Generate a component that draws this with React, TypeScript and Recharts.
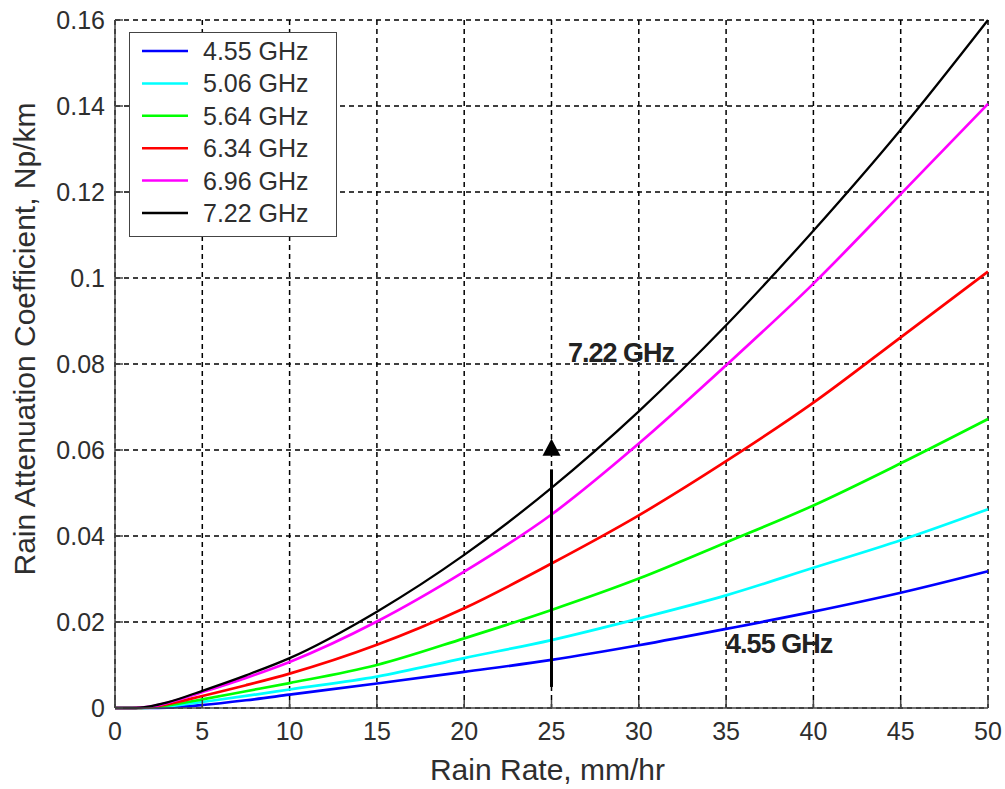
import React from 'react';
import {
  LineChart, Line, XAxis, YAxis, CartesianGrid, Legend, ReferenceLine, ReferenceDot,
} from 'recharts';

// Rain rate (mm/hr)
const rainRate = [0, 1, 2, 3, 5, 7.5, 10, 15, 20, 25, 30, 35, 40, 45, 50];

// Rain attenuation coefficient (Np/km) per frequency
const att455 = [0, 0, 0, 0.0001, 0.0007, 0.0018, 0.0031, 0.0057, 0.0084, 0.0112, 0.0146, 0.0184, 0.0224, 0.0268, 0.0318];
const att506 = [0, 0, 0.0001, 0.0004, 0.0014, 0.0028, 0.0043, 0.0073, 0.0116, 0.0158, 0.0208, 0.0262, 0.0326, 0.039, 0.0462];
const att564 = [0, 0, 0.0001, 0.0006, 0.002, 0.0039, 0.0058, 0.01, 0.0162, 0.0228, 0.0301, 0.0385, 0.0471, 0.0569, 0.0672];
const att634 = [0, 0, 0.0002, 0.0009, 0.0028, 0.0053, 0.008, 0.0147, 0.0232, 0.0336, 0.0448, 0.0574, 0.071, 0.0862, 0.1015];
const att696 = [0, 0, 0.0003, 0.0012, 0.0037, 0.007, 0.0107, 0.0201, 0.0317, 0.045, 0.0615, 0.0797, 0.0987, 0.1195, 0.1405];
const att722 = [0, 0, 0.0004, 0.0013, 0.004, 0.0076, 0.0116, 0.0224, 0.0356, 0.0512, 0.069, 0.089, 0.111, 0.1345, 0.16];

const seriesNames = ['4.55 GHz', '5.06 GHz', '5.64 GHz', '6.34 GHz', '6.96 GHz', '7.22 GHz'];
const seriesKeys = ['f455', 'f506', 'f564', 'f634', 'f696', 'f722'];
const seriesColors = ['#0000ff', '#00ffff', '#00ff00', '#ff0000', '#ff00ff', '#000000'];
const seriesValues = [att455, att506, att564, att634, att696, att722];

const xTicks = [0, 5, 10, 15, 20, 25, 30, 35, 40, 45, 50];
const yTicks = [0, 0.02, 0.04, 0.06, 0.08, 0.1, 0.12, 0.14, 0.16];

// Annotations
const arrowX = 25;
const arrowFrom = 0.0049;
const arrowShaftTo = 0.0555;
const arrowTip = 0.0626;
const label722 = { x: 25.94, y: 0.0805, text: '7.22 GHz' };
const label455 = { x: 35, y: 0.0128, text: '4.55 GHz' };

const data = rainRate.map((r, i) => {
  const row: Record<string, number> = { r };
  seriesKeys.forEach((k, j) => { row[k] = seriesValues[j][i]; });
  return row;
});

const FONT = '"Liberation Sans", Arial, Helvetica, sans-serif';
const TEXT = '#2e2e2e';
const FRAME = '#444';

const fmtY = (v: number) => String(Number(v.toFixed(2)));

const LegendBox = () => (
  <div style={{ width: 208, height: 205, boxSizing: 'border-box', border: `1.5px solid ${FRAME}`, background: '#fff' }}>
    <svg width={205} height={202} style={{ display: 'block' }}>
      {seriesNames.map((n, i) => {
        const cy = 18 + i * 32.4;
        return (
          <g key={n}>
            <line x1={12} x2={58} y1={cy} y2={cy} stroke={seriesColors[i]} strokeWidth={2.5} />
            <text x={73} y={cy + 9} fontSize={25} fill={TEXT} fontFamily={FONT}>{n}</text>
          </g>
        );
      })}
    </svg>
  </div>
);

const YLabel = (props: any) => {
  const vb = props.viewBox || { x: 55, y: 20, width: 60, height: 688 };
  const cx = vb.x - 31;
  const cy = vb.y + vb.height / 2 - 25;
  return (
    <text x={cx} y={cy} transform={`rotate(-90, ${cx}, ${cy})`} textAnchor="middle" dominantBaseline="central"
      fontSize={30} fill={TEXT} fontFamily={FONT}>
      Rain Attenuation Coefficient, Np/km
    </text>
  );
};

const XLabel = (props: any) => {
  const vb = props.viewBox || { x: 115, y: 708, width: 873, height: 40 };
  return (
    <text x={vb.x + vb.width / 2 - 4} y={vb.y + 72} textAnchor="middle" fontSize={30} fill={TEXT} fontFamily={FONT}>
      Rain Rate, mm/hr
    </text>
  );
};

const ArrowHead = (p: any) => {
  const { cx, cy } = p;
  if (cx == null || cy == null) return null;
  return <polygon points={`${cx},${cy} ${cx - 9},${cy + 17} ${cx + 9},${cy + 17}`} fill="#000" />;
};

const makeText = (text: string) => (p: any) => {
  const { cx, cy } = p;
  if (cx == null || cy == null) return null;
  return (
    <text x={cx} y={cy} fontSize={27} fontWeight="bold" letterSpacing={-1} fill="#222" fontFamily={FONT}>{text}</text>
  );
};

export default function App() {
  return (
    <div style={{ position: 'absolute', left: 0, top: 0, background: '#fff' }}>
      <LineChart width={1005} height={789} data={data} margin={{ top: 20, right: 17, bottom: 41, left: 55 }}
        style={{ fontFamily: FONT }}>
        <CartesianGrid stroke="#000" strokeWidth={1.5} strokeDasharray="5 4" />
        <XAxis dataKey="r" type="number" domain={[0, 50]} ticks={xTicks} height={40}
          axisLine={{ stroke: FRAME, strokeWidth: 1.5 }} tickLine={{ stroke: FRAME, strokeWidth: 1.5 }}
          tickSize={-8} tickMargin={22} tick={{ fontSize: 25, fill: TEXT, fontFamily: FONT }}
          label={<XLabel />} />
        <XAxis xAxisId="top" dataKey="r" type="number" orientation="top" domain={[0, 50]} ticks={xTicks} height={0}
          axisLine={{ stroke: FRAME, strokeWidth: 1.5 }} tickLine={{ stroke: FRAME, strokeWidth: 1.5 }}
          tickSize={-8} tick={false} />
        <YAxis type="number" domain={[0, 0.16]} ticks={yTicks} width={60} tickFormatter={fmtY}
          axisLine={{ stroke: FRAME, strokeWidth: 1.5 }} tickLine={{ stroke: FRAME, strokeWidth: 1.5 }}
          tickSize={-8} tickMargin={18} tick={{ fontSize: 25, fill: TEXT, fontFamily: FONT }}
          label={<YLabel />} />
        <YAxis yAxisId="right" type="number" orientation="right" domain={[0, 0.16]} ticks={yTicks} width={0}
          axisLine={{ stroke: FRAME, strokeWidth: 1.5 }} tickLine={{ stroke: FRAME, strokeWidth: 1.5 }}
          tickSize={-8} tick={false} />
        {seriesKeys.map((k, i) => (
          <Line key={k} dataKey={k} name={seriesNames[i]} type="monotone" stroke={seriesColors[i]}
            strokeWidth={i === 5 ? 2.3 : 2.7} dot={false} activeDot={false} isAnimationActive={false} />
        ))}
        <ReferenceLine segment={[{ x: arrowX, y: arrowFrom }, { x: arrowX, y: arrowShaftTo }]} stroke="#000" strokeWidth={3} />
        <ReferenceDot x={arrowX} y={arrowTip} r={0} shape={ArrowHead} />
        <ReferenceDot x={label722.x} y={label722.y} r={0} shape={makeText(label722.text)} />
        <ReferenceDot x={label455.x} y={label455.y} r={0} shape={makeText(label455.text)} />
        <Legend layout="vertical" align="center" verticalAlign="middle" content={<LegendBox />}
          wrapperStyle={{ left: 129, top: 32, width: 208, height: 205 }} />
      </LineChart>
    </div>
  );
}
